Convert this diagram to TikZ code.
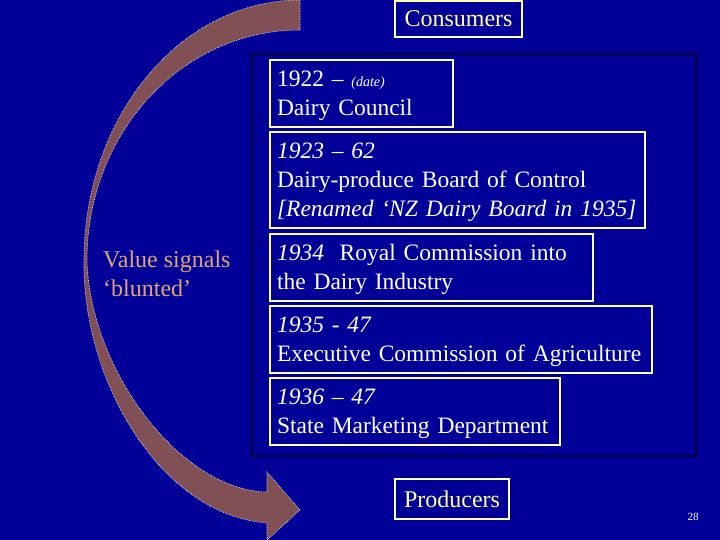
\documentclass[tikz,border=0pt]{standalone}
\usepackage{fontspec}
\setmainfont{Liberation Serif}
\hyphenpenalty=10000
\exhyphenpenalty=10000

\definecolor{slidebg}{RGB}{0,0,153}
\definecolor{bandfill}{RGB}{128,80,84}
\definecolor{boxline}{RGB}{255,255,170}
\definecolor{endtext}{RGB}{255,255,153}
\definecolor{signal}{RGB}{224,164,112}
\definecolor{frameline}{RGB}{0,0,50}

\begin{document}
\begin{tikzpicture}[x=1pt,y=-1pt,
	period/.style={draw=boxline,line width=1.5pt,text=white,anchor=north west,
		align=left,inner xsep=7pt,inner ysep=0pt,outer sep=0pt,text height=21pt,
		font=\fontsize{23.5}{29}\selectfont},
	party/.style={draw=boxline,line width=1.5pt,text=endtext,anchor=north west,
		inner sep=0pt,outer sep=0pt,font=\fontsize{24}{29}\selectfont}]
\useasboundingbox (0,0) rectangle (720,540);
\fill[slidebg] (0,0) rectangle (720,540);

% the curved arrow from consumers down to producers
\filldraw[fill=bandfill,draw=white,densely dotted,line width=0.6pt]
	(300,0) .. controls (181,0) and (84,116) .. (84,260)
	.. controls (82,380) and (160,515) .. (267,523)
	-- (267,540) -- (300,510) -- (267,472) -- (267,492)
	.. controls (180,490) and (90,370) .. (87,260)
	.. controls (87,133) and (182,30) .. (300,30) -- cycle;

% frame round the boards
\draw[frameline,line width=2.5pt] (252,54) rectangle (696,456);

\node[period,text width=169pt,minimum height=67pt] (council) at (270,60)
	{1922 -- {\fontsize{14}{16}\selectfont\itshape (date)}\\Dairy Council};
\node[period,text width=361pt,minimum height=96pt] (board) at (270,132)
	{\itshape 1923 -- 62\\\upshape Dairy-produce Board of Control\\\itshape [Renamed ‘NZ Dairy Board in 1935]};
\node[period,text width=309pt,minimum height=67pt] (royal) at (270,234)
	{\textit{1934}\ \ Royal Commission into\\the Dairy Industry};
\node[period,text width=368pt,minimum height=67pt] (exec) at (270,306)
	{\textit{1935 - 47}\\Executive Commission of Agriculture};
\node[period,text width=276pt,minimum height=67pt] (market) at (270,378)
	{\textit{1936 -- 47}\\State Marketing Department};

\node[party,minimum width=127pt,minimum height=36pt] (consumers) at (395,1) {Consumers};
\node[party,minimum width=114pt,minimum height=40pt] (producers) at (395,479) {Producers};

\node[anchor=west,align=left,text=signal,inner sep=0pt,
	font=\fontsize{24}{29}\selectfont] (signals) at (103,274) {Value signals\\‘blunted’};
\node[text=white,font=\fontsize{11}{13}\selectfont] (page) at (693,517) {28};
\end{tikzpicture}
\end{document}
